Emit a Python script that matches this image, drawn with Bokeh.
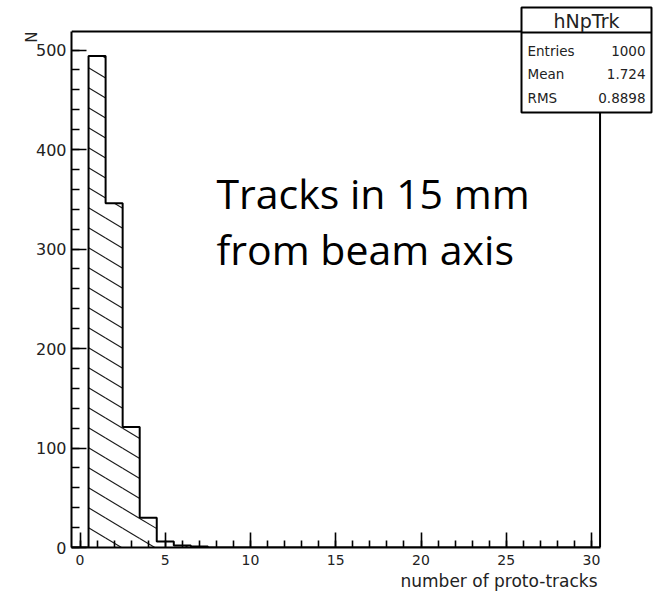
import numpy as np
from bokeh.plotting import figure
from bokeh.models import FixedTicker, Range1d, Title
from bokeh.core.properties import value
from bokeh.embed import file_html
from bokeh.resources import INLINE

# ---- histogram contents (one bin per integer, -0.5 .. 30.5) ----
bin_centers = list(range(0, 31))
counts = [0, 494, 346, 121, 30, 6, 2, 1] + [0] * 23

# ---- axes ----
x_ticks = [0, 5, 10, 15, 20, 25, 30]
x_minor = list(range(0, 31))
y_ticks = [0, 100, 200, 300, 400, 500]
y_minor = list(range(0, 520, 20))
x_title = "number of proto-tracks"
y_title = "N"

# ---- statistics box ----
hist_name = "hNpTrk"
stat_names = ["Entries", "Mean", "RMS"]
stat_values = ["1000", "1.724", "0.8898"]

# ---- note ----
note_lines = ["Tracks in 15 mm", "from beam axis"]

# ---- canvas geometry ----
W, H = 656, 593
LEFT, BOTTOM = 71, 46          # axis panels
X0, X1 = -0.5, 30.5            # histogram range
YMAX = 518.6                   # top of the histogram frame
PX_X = 17.05                   # pixels per unit along x
PX_Y = 0.995                   # pixels per entry along y


def dx(px):
    """canvas pixel column -> data x"""
    return X0 + (px - LEFT) / PX_X


def dy(py):
    """canvas pixel row (from top) -> data y"""
    return (H - BOTTOM - py) / PX_Y


p = figure(
    width=W, height=H,
    x_range=Range1d(X0, dx(W)), y_range=Range1d(0, dy(0)),
    output_backend="svg", toolbar_location=None,
    min_border_left=LEFT, min_border_bottom=BOTTOM,
    min_border_top=0, min_border_right=0,
)
p.outline_line_color = None
p.xgrid.visible = False
p.ygrid.visible = False
p.background_fill_color = "white"
p.border_fill_color = "white"

FONT = "DejaVu Sans"

for ax, ticks, minor, bounds, size, standoff, minor_len in (
    (p.xaxis[0], x_ticks, x_minor, (X0, X1), "14px", 7, 7),
    (p.yaxis[0], y_ticks, y_minor, (0, YMAX), "16px", 5, 8),
):
    ax.ticker = FixedTicker(ticks=ticks, minor_ticks=minor)
    ax.bounds = bounds
    ax.axis_line_width = 2
    ax.axis_line_color = "black"
    ax.major_tick_in = 15
    ax.major_tick_out = 0
    ax.minor_tick_in = minor_len
    ax.minor_tick_out = 0
    ax.major_tick_line_width = 1.6
    ax.minor_tick_line_width = 1.6
    ax.major_tick_line_color = "black"
    ax.minor_tick_line_color = "black"
    ax.major_label_text_font = FONT
    ax.major_label_text_font_size = size
    ax.major_label_text_color = "#222222"
    ax.major_label_standoff = standoff

p.yaxis[0].major_label_orientation = "horizontal"

# axis titles, right-aligned at the far end of each axis
p.add_layout(Title(text=x_title, align="right", offset=W - 597,
                   text_font=FONT, text_font_size="17px", text_font_style="normal",
                   text_color="#222222", standoff=2), "below")
p.add_layout(Title(text=y_title, align="right", offset=31,
                   text_font=FONT, text_font_size="15px", text_font_style="normal",
                   text_color="#222222", standoff=-17), "left")

# frame: top and right sides
p.segment(x0=[X0, X1], y0=[YMAX, 0], x1=[X1, X1], y1=[YMAX, YMAX],
          line_color="black", line_width=2)

# ---- hatch lines inside the histogram (falling to the right) ----
slope = 0.6 * PX_X / PX_Y      # entries per unit x
gap = 20 / PX_Y                # vertical spacing of hatch lines
edges = np.arange(X0, X1 + 1, 1.0)
hx0, hy0, hx1, hy1 = [], [], [], []
b_top = max(c + slope * (edges[i + 1] - X0) for i, c in enumerate(counts))
for b in np.arange(gap / 2, b_top + gap, gap):
    for i, h in enumerate(counts):
        if h <= 0:
            continue
        l, r = edges[i], edges[i + 1]
        xa = X0 + (b - h) / slope
        xb = X0 + b / slope
        s, e = max(l, xa), min(r, xb)
        if e > s:
            hx0.append(s)
            hy0.append(b - slope * (s - X0))
            hx1.append(e)
            hy1.append(b - slope * (e - X0))
p.segment(x0=hx0, y0=hy0, x1=hx1, y1=hy1, line_color="#1a1a1a", line_width=1.1)

# ---- histogram outline ----
p.step(x=list(edges), y=counts + [0], mode="after", line_color="black", line_width=2)

# ---- statistics box ----
BL, BR, BT, BB, BSEP = 521, 651, 7, 112, 32
p.quad(left=[dx(BL)], right=[dx(BR)], top=[dy(BT)], bottom=[dy(BB)],
       fill_color="white", line_color="black", line_width=2)
p.segment(x0=[dx(BL)], y0=[dy(BSEP)], x1=[dx(BR)], y1=[dy(BSEP)],
          line_color="black", line_width=2)
p.text(x=[dx((BL + BR) / 2)], y=[dy(20)], text=[hist_name],
       text_align="center", text_baseline="middle",
       text_font=value(FONT), text_font_size="19px", text_color="#222222")
rows = [50, 73.5, 97]
p.text(x=[dx(527)] * 3, y=[dy(r) for r in rows], text=stat_names,
       text_align="left", text_baseline="middle",
       text_font=value(FONT), text_font_size="13.5px", text_color="#222222")
p.text(x=[dx(645)] * 3, y=[dy(r) for r in rows], text=stat_values,
       text_align="right", text_baseline="middle",
       text_font=value(FONT), text_font_size="13.5px", text_color="#222222")

# ---- note text ----
p.text(x=[dx(216), dx(216)], y=[dy(192), dy(248)], text=note_lines,
       text_align="left", text_baseline="alphabetic",
       text_font=value("Open Sans"), text_font_size="41px", text_color="black")

open("out.html", "w").write(file_html(p, INLINE))
